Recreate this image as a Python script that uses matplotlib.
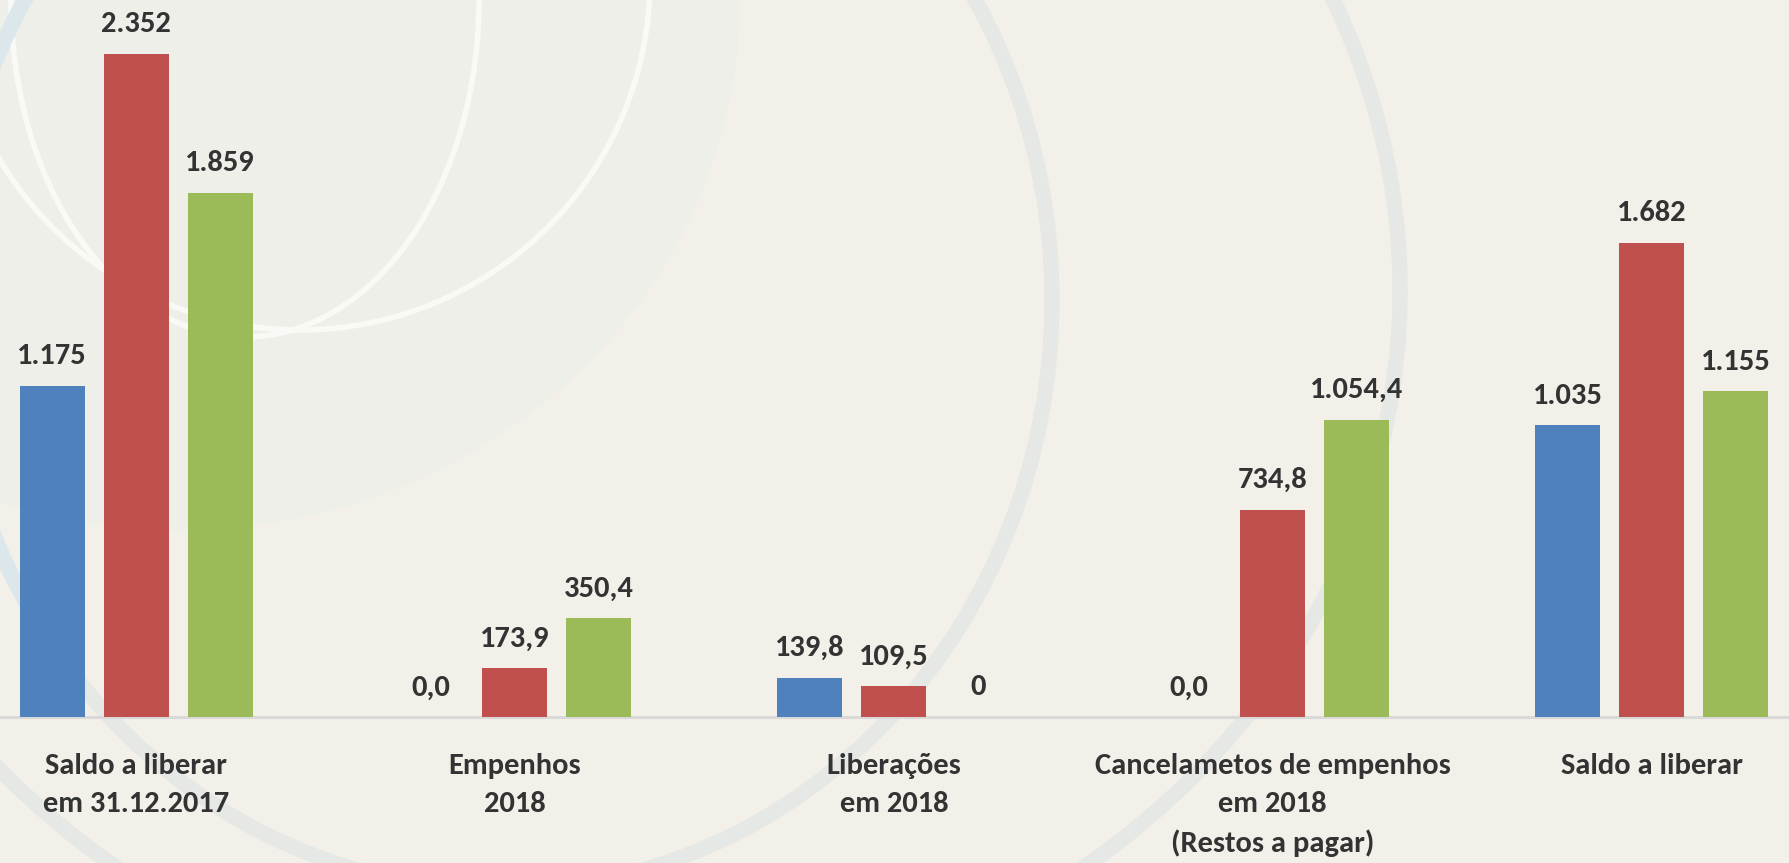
import matplotlib
matplotlib.use('Agg')
import matplotlib.pyplot as plt
from matplotlib.patches import Ellipse, Arc
import numpy as np

BG_COLOR = '#F3F0E9'
TEXT_COLOR = '#333333'
BLUE = '#4F81BD'
RED = '#C0504D'
GREEN = '#9BBB59'
FONT = ['Carlito', 'DejaVu Sans']

# data
categories = ['Saldo a liberar\nem 31.12.2017', 'Empenhos\n2018', 'Liberações\nem 2018',
              'Cancelametos de empenhos\nem 2018\n(Restos a pagar)', 'Saldo a liberar']
serie_azul = [1175, 0.0, 139.8, 0.0, 1035]
serie_vermelha = [2352, 173.9, 109.5, 734.8, 1682]
serie_verde = [1859, 350.4, 0, 1054.4, 1155]
rotulos_azul = ['1.175', '0,0', '139,8', '0,0', '1.035']
rotulos_vermelha = ['2.352', '173,9', '109,5', '734,8', '1.682']
rotulos_verde = ['1.859', '350,4', '0', '1.054,4', '1.155']

W, H = 1789, 863
fig = plt.figure(figsize=(W / 100, H / 100), dpi=100)
fig.patch.set_facecolor(BG_COLOR)

# decorative background (pixel coords, y down)
bg = fig.add_axes([0, 0, 1, 1], zorder=0)
bg.set_xlim(0, W)
bg.set_ylim(H, 0)
bg.axis('off')
bg.add_patch(Ellipse((180, 0), 1120, 1060, facecolor='#EFEFEA', edgecolor='none'))
bg.add_patch(Ellipse((245, 0), 468, 674, facecolor='none', edgecolor='#F9F9F6', lw=4))
bg.add_patch(Ellipse((300, -20), 700, 700, facecolor='none', edgecolor='#F9F9F6', lw=4))
bg.add_patch(Ellipse((500, 300), 1104, 1180, facecolor='none', edgecolor='#E5E8E4', lw=11))
bg.add_patch(Arc((500, 300), 1104, 1180, theta1=140, theta2=235, edgecolor='#DCE7EC', lw=11))
bg.add_patch(Ellipse((600, 290), 1600, 1450, facecolor='none', edgecolor='#E5E8E4', lw=11))

# main chart
base_px = 717
ax = fig.add_axes([0, 1 - base_px / H, 1, base_px / H], zorder=1)
ax.patch.set_alpha(0)

x = np.arange(len(categories))
width = 0.1715
offset = 0.2217
series = [(serie_azul, rotulos_azul, BLUE, -offset),
          (serie_vermelha, rotulos_vermelha, RED, 0),
          (serie_verde, rotulos_verde, GREEN, offset)]

for vals, labels, color, dx in series:
    bars = ax.bar(x + dx, vals, width, color=color, edgecolor='none', zorder=3)
    for rect, lab in zip(bars, labels):
        ax.annotate(lab, (rect.get_x() + rect.get_width() / 2, rect.get_height()),
                    xytext=(0, 15.5), textcoords='offset points', ha='center', va='baseline',
                    fontsize=22, fontweight='bold', color=TEXT_COLOR, family=FONT, zorder=4)

ax.axhline(0, color='#D9D9D9', lw=2.2, zorder=2, clip_on=False)

ax.set_xlim(-0.359, 4.3626)
ax.set_ylim(0, 2543)
ax.set_yticks([])
ax.set_xticks(x)
ax.set_xticklabels(categories, fontsize=22, fontweight='bold', color=TEXT_COLOR,
                   family=FONT, linespacing=1.56)
ax.tick_params(axis='x', length=0, pad=26)
for s in ax.spines.values():
    s.set_visible(False)

fig.savefig('out.png', dpi=100, facecolor=BG_COLOR)
plt.close()
